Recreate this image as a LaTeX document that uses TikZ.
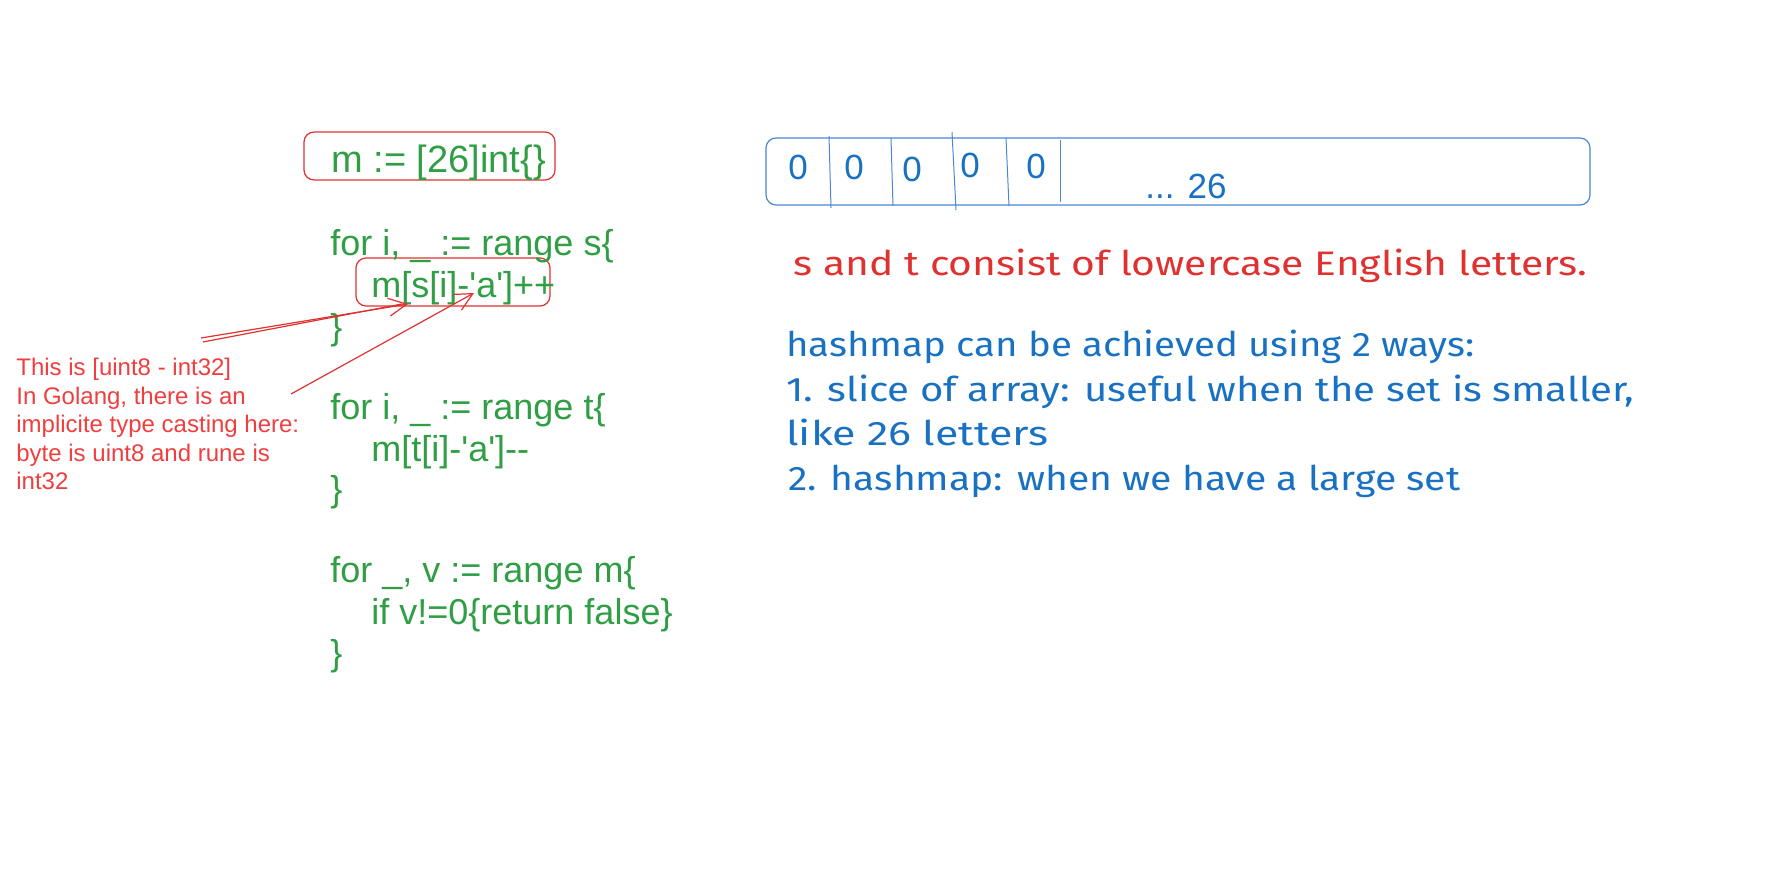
\documentclass[tikz,border=0pt]{standalone}
\usepackage{fontspec}
\usepackage{graphicx}
\setmainfont{Liberation Sans}
\newfontfamily\handfont{Fira Sans}
\usetikzlibrary{arrows.meta}
\definecolor{codegreen}{HTML}{2F9E44}
\definecolor{xred}{HTML}{E03131}
\definecolor{notered}{HTML}{F03E3E}
\definecolor{xblue}{HTML}{1971C2}
\definecolor{boxblue}{HTML}{4A86D4}
\newcommand\fitw[2]{\resizebox{#1}{\height}{#2}}
\newcommand\sq{\textquotesingle}
\begin{document}
\begin{tikzpicture}[x=0.5pt,y=-0.5pt,
  code/.style={anchor=west, inner sep=0pt, text=codegreen,
    font=\fontsize{18}{20}\selectfont, text height=0.75em, text depth=0.25em},
  note/.style={anchor=west, inner sep=0pt, text=notered,
    font=\fontsize{12}{14}\selectfont, text height=0.75em, text depth=0.25em},
  hand/.style={anchor=west, inner sep=0pt, font=\handfont\fontsize{17}{20}\selectfont,
    text height=0.75em, text depth=0.25em},
  cell/.style={inner sep=0pt, text=xblue, font=\fontsize{17.5}{20}\selectfont},
  redbox/.style={draw=xred, line width=0.6pt, rounded corners=5pt},
  bluebox/.style={draw=boxblue, line width=0.6pt, rounded corners=5pt},
  divider/.style={draw=boxblue, line width=0.5pt},
  redarrow/.style={draw=xred, line width=0.6pt},
]
\useasboundingbox (0,0) rectangle (1768,892);

% code boxes
\draw[redbox] (304,132) rectangle (555,180);
\draw[redbox] (356,258) rectangle (550,306);

% code lines
\node[code, font=\fontsize{19}{20}\selectfont] (c0) at (331,168) {m := [26]int\{\}};
\node[code] (c1) at (330,251) {for i, \_ := range s\{};
\node[code] (c2) at (371,293) {m[s[i]-\sq a\sq]++};
\node[code] (c3) at (330,335) {\}};
\node[code] (c4) at (330,415) {for i, \_ := range t\{};
\node[code] (c5) at (371,457) {m[t[i]-\sq a\sq]-{}-};
\node[code] (c6) at (330,497) {\}};
\node[code] (c7) at (330,578) {for \_, v := range m\{};
\node[code] (c8) at (371,620) {if v!=0\{return false\}};
\node[code] (c9) at (330,661) {\}};

% annotation
\node[note] (n1) at (16,371) {This is [uint8 - int32]};
\node[note] (n2) at (16,400) {In Golang, there is an};
\node[note] (n3) at (16,428) {implicite type casting here:};
\node[note] (n4) at (16,457) {byte is uint8 and rune is};
\node[note] (n5) at (16,485) {int32};

% arrows
\coordinate (a1s) at (201,338);
\coordinate (a1s2) at (203,342);
\coordinate (a1t) at (408,304);
\coordinate (a2s) at (291,394);
\coordinate (a2t) at (474,293);
\draw[redarrow, -{Straight Barb[length=9pt,width=9pt]}] (a1s) -- (a1t);
\draw[redarrow] (a1s2) -- ([xshift=-3pt]a1t);
\draw[redarrow, -{Straight Barb[length=9pt,width=9pt]}] (a2s) -- (a2t);

% array
\draw[bluebox] (766,138) rectangle (1590,205);
\draw[divider] (829,136) -- (831,208);
\draw[divider] (891,138) -- (893,206);
\draw[divider] (952,132) -- (956,210);
\draw[divider] (1006,138) -- (1009,206);
\draw[divider] (1060,140) -- (1060,202);
\node[cell] (z1) at (798,167) {0};
\node[cell] (z2) at (854,167) {0};
\node[cell] (z3) at (912,169) {0};
\node[cell] (z4) at (970,165) {0};
\node[cell] (z5) at (1036,166) {0};
\node[cell] (dots) at (1186,186) {... 26};

% handwritten notes
\node[hand, text=xred] (h0) at (793,271) {\fitw{397pt}{s and t consist of lowercase English letters.}};
\node[hand, text=xblue] (h1) at (786,352) {\fitw{344pt}{hashmap can be achieved using 2 ways:}};
\node[hand, text=xblue] (h2) at (786,397) {\fitw{424pt}{1. slice of array: useful when the set is smaller,}};
\node[hand, text=xblue] (h3) at (786,441) {\fitw{131pt}{like 26 letters}};
\node[hand, text=xblue] (h4) at (788,486) {\fitw{336pt}{2. hashmap: when we have a large set}};
\end{tikzpicture}
\end{document}
